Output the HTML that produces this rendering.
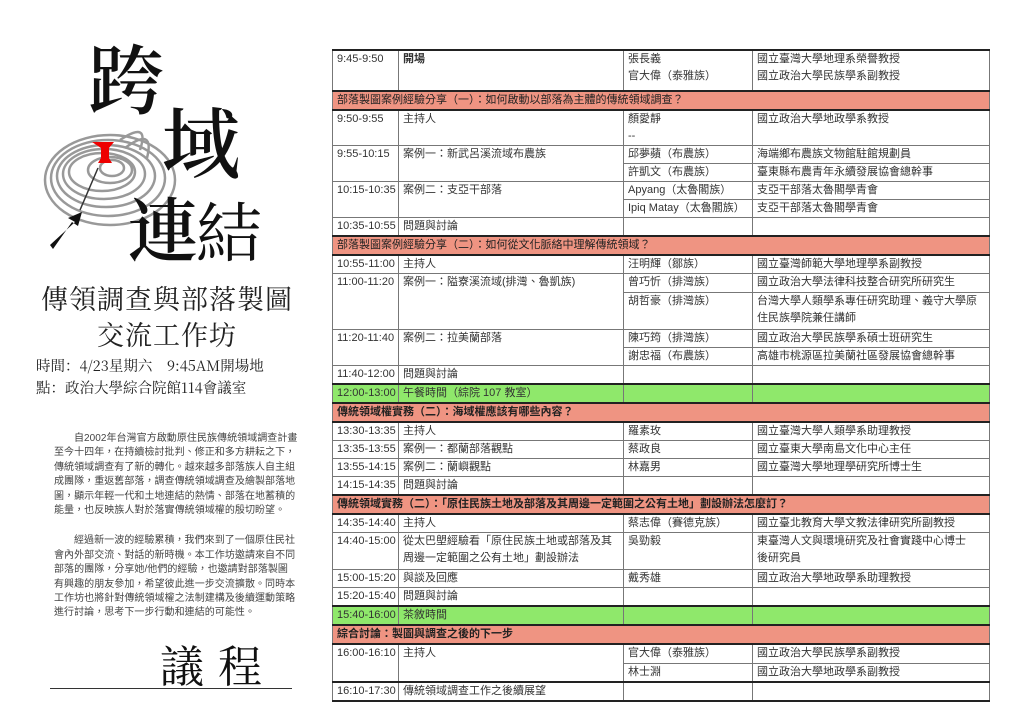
<!DOCTYPE html>
<html><head><meta charset="utf-8">
<style>
body{margin:0;width:1024px;height:724px;background:#fff;position:relative;overflow:hidden;font-family:"Liberation Sans","Noto Sans CJK TC",sans-serif;color:#333}
.abs{position:absolute}
.cal{font-family:"Noto Serif CJK SC","Liberation Serif",serif;color:#111;font-weight:600;position:absolute;line-height:1}
table{position:absolute;left:332px;top:49px;width:657px;border-collapse:collapse;font-size:11px;table-layout:fixed}
td{border:1px solid #777;padding:0 4px;vertical-align:top;line-height:17px;white-space:nowrap;overflow:hidden}
tr.h td{background:#ef9482;color:#222;border-top:2px solid #222;border-bottom:2px solid #222}
tr.g td{background:#8fe86b;border-top:2px solid #222}
.p{font-size:10px;line-height:14.4px;color:#444;text-indent:20px;margin:0;letter-spacing:0.05px}
</style></head><body>
<svg class="abs" style="left:0;top:0" width="320" height="300">
<g fill="none" stroke="#999" stroke-width="2.5">
<ellipse cx="110" cy="180" rx="65" ry="45"/>
<ellipse cx="108" cy="178" rx="57" ry="38"/>
<ellipse cx="106" cy="176" rx="49" ry="31"/>
<ellipse cx="104" cy="174" rx="41" ry="25"/>
<ellipse cx="102" cy="172" rx="33" ry="19"/>
<ellipse cx="110" cy="170" rx="22" ry="13"/>
<ellipse cx="112" cy="168" rx="12" ry="8"/>
<path d="M120 140 q30 -20 20 10"/><path d="M125 148 q30 -22 22 10"/>
</g>
<path d="M98 168 L80 210" stroke="#333" stroke-width="1.5"/>
<path d="M92 142 h22 l-5 6 v10 l3 5 h-14 l3 -5 v-10z" fill="#e00"/>
<path d="M50 245 L75 222 L68 218 L82 212 L78 226 L72 222 L53 249z" fill="#111"/>
</svg>
<div class="cal" style="left:88px;top:38px;font-size:76px">跨</div>
<div class="cal" style="left:162px;top:100px;font-size:78px">域</div>
<div class="cal" style="left:128px;top:192px;font-size:70px">連</div>
<div class="cal" style="left:196px;top:196px;font-size:66px;font-weight:400">結</div>
<div class="abs" style="left:36px;top:280px;width:262px;text-align:center;font-family:'Noto Serif CJK TC','Noto Serif CJK SC',serif;font-size:27px;letter-spacing:1px;color:#222;line-height:36px">傳領調查與部落製圖<br>交流工作坊</div>
<div class="abs" style="left:36px;top:355px;font-family:'Noto Serif CJK SC',serif;font-size:14.5px;line-height:22px;color:#222;white-space:nowrap">時間：4/23星期六　9:45AM開場地<br>點：政治大學綜合院館114會議室</div>
<div class="abs" style="left:54px;top:432px;width:244px">
<p class="p">自2002年台灣官方啟動原住民族傳統領域調查計畫至今十四年，在持續檢討批判、修正和多方耕耘之下，傳統領域調查有了新的轉化。越來越多部落族人自主組成團隊，重返舊部落，調查傳統領域調查及繪製部落地圖，顯示年輕一代和土地連結的熱情、部落在地蓄積的能量，也反映族人對於落實傳統領域權的殷切盼望。</p>
<p class="p" style="margin-top:16px">經過新一波的經驗累積，我們來到了一個原住民社會內外部交流、對話的新時機。本工作坊邀請來自不同部落的團隊，分享她/他們的經驗，也邀請對部落製圖有興趣的朋友參加，希望彼此進一步交流擴散。同時本工作坊也將針對傳統領域權之法制建構及後續運動策略進行討論，思考下一步行動和連結的可能性。</p>
</div>
<div class="abs" style="left:160px;top:638px;font-family:'Noto Serif CJK SC',serif;font-size:44px;letter-spacing:14px;color:#111;line-height:50px">議程</div>
<div class="abs" style="left:50px;top:688px;width:242px;height:1px;background:#333"></div>

<table>
<colgroup><col style="width:66px"><col style="width:225px"><col style="width:129px"><col style="width:237px"></colgroup>
<tr style="height:41px;border-top:2px solid #222"><td>9:45-9:50</td><td><b>開場</b></td><td>張長義<br>官大偉（泰雅族）</td><td>國立臺灣大學地理系榮譽教授<br>國立政治大學民族學系副教授</td></tr>
<tr class="h"><td colspan="4" style="height:15px">部落製圖案例經驗分享（一）：如何啟動以部落為主體的傳統領域調查？</td></tr>
<tr style="height:33px"><td>9:50-9:55</td><td>主持人</td><td>顏愛靜<br>--</td><td>國立政治大學地政學系教授</td></tr>
<tr style="height:18px"><td rowspan="2">9:55-10:15</td><td rowspan="2">案例一：新武呂溪流域布農族</td><td>邱夢蘋（布農族）</td><td>海端鄉布農族文物館駐館規劃員</td></tr>
<tr style="height:18px"><td>許凱文（布農族）</td><td>臺東縣布農青年永續發展協會總幹事</td></tr>
<tr style="height:18px"><td rowspan="2">10:15-10:35</td><td rowspan="2">案例二：支亞干部落</td><td>Apyang（太魯閣族）</td><td>支亞干部落太魯閣學青會</td></tr>
<tr style="height:18px"><td>Ipiq Matay（太魯閣族）</td><td>支亞干部落太魯閣學青會</td></tr>
<tr style="height:18px"><td>10:35-10:55</td><td>問題與討論</td><td></td><td></td></tr>
<tr class="h"><td colspan="4" style="height:15px">部落製圖案例經驗分享（二）：如何從文化脈絡中理解傳統領域？</td></tr>
<tr style="height:18px"><td>10:55-11:00</td><td>主持人</td><td>汪明輝（鄒族）</td><td>國立臺灣師範大學地理學系副教授</td></tr>
<tr style="height:19px"><td rowspan="2">11:00-11:20</td><td rowspan="2">案例一：隘寮溪流域(排灣、魯凱族)</td><td>曾巧忻（排灣族）</td><td>國立政治大學法律科技整合研究所研究生</td></tr>
<tr style="height:37px"><td>胡哲豪（排灣族）</td><td>台灣大學人類學系專任研究助理、義守大學原<br>住民族學院兼任講師</td></tr>
<tr style="height:18px"><td rowspan="2">11:20-11:40</td><td rowspan="2">案例二：拉美蘭部落</td><td>陳巧筠（排灣族）</td><td>國立政治大學民族學系碩士班研究生</td></tr>
<tr style="height:18px"><td>謝忠福（布農族）</td><td>高雄市桃源區拉美蘭社區發展協會總幹事</td></tr>
<tr style="height:18px"><td>11:40-12:00</td><td>問題與討論</td><td></td><td></td></tr>
<tr class="g" style="height:18px"><td>12:00-13:00</td><td>午餐時間（綜院 107 教室）</td><td></td><td></td></tr>
<tr class="h"><td colspan="4" style="height:16px"><b>傳統領域權實務（二）：海域權應該有哪些內容？</b></td></tr>
<tr style="height:18px"><td>13:30-13:35</td><td>主持人</td><td>羅素玫</td><td>國立臺灣大學人類學系助理教授</td></tr>
<tr style="height:18px"><td>13:35-13:55</td><td>案例一：都蘭部落觀點</td><td>蔡政良</td><td>國立臺東大學南島文化中心主任</td></tr>
<tr style="height:18px"><td>13:55-14:15</td><td>案例二：蘭嶼觀點</td><td>林嘉男</td><td>國立臺灣大學地理學研究所博士生</td></tr>
<tr style="height:18px"><td>14:15-14:35</td><td>問題與討論</td><td></td><td></td></tr>
<tr class="h"><td colspan="4" style="height:16px"><b>傳統領域實務（二）：「原住民族土地及部落及其周邊一定範圍之公有土地」劃設辦法怎麼訂？</b></td></tr>
<tr style="height:18px"><td>14:35-14:40</td><td>主持人</td><td>蔡志偉（賽德克族）</td><td>國立臺北教育大學文教法律研究所副教授</td></tr>
<tr style="height:37px"><td>14:40-15:00</td><td>從太巴塱經驗看「原住民族土地或部落及其<br>周邊一定範圍之公有土地」劃設辦法</td><td>吳勁毅</td><td>東臺灣人文與環境研究及社會實踐中心博士<br>後研究員</td></tr>
<tr style="height:18px"><td>15:00-15:20</td><td>與談及回應</td><td>戴秀雄</td><td>國立政治大學地政學系助理教授</td></tr>
<tr style="height:18px"><td>15:20-15:40</td><td>問題與討論</td><td></td><td></td></tr>
<tr class="g" style="height:18px"><td>15:40-16:00</td><td>茶敘時間</td><td></td><td></td></tr>
<tr class="h"><td colspan="4" style="height:16px"><b>綜合討論：製圖與調查之後的下一步</b></td></tr>
<tr style="height:19px"><td rowspan="2">16:00-16:10</td><td rowspan="2">主持人</td><td>官大偉（泰雅族）</td><td>國立政治大學民族學系副教授</td></tr>
<tr style="height:18px"><td>林士淵</td><td>國立政治大學地政學系副教授</td></tr>
<tr style="height:18px;border-top:2px solid #222;border-bottom:2px solid #222"><td>16:10-17:30</td><td>傳統領域調查工作之後續展望</td><td></td><td></td></tr>
</table>
</body></html>
